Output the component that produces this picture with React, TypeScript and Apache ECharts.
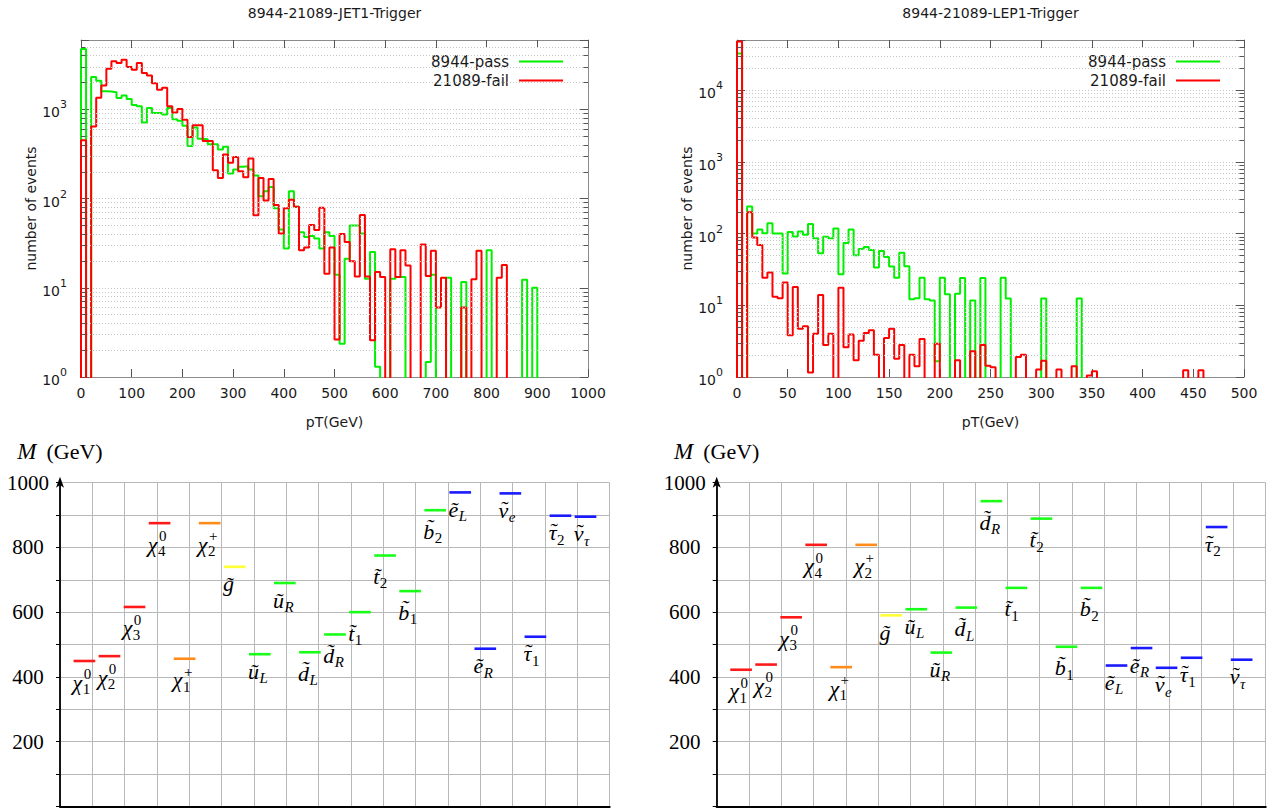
import React, { useEffect, useRef } from 'react';
import * as echarts from 'echarts';

const SANS = 'DejaVu Sans';
const SERIF = 'Liberation Serif';

// ---------------- histogram data ----------------
const jetTitle = '8944-21089-JET1-Trigger';
const lepTitle = '8944-21089-LEP1-Trigger';
const passName = '8944-pass';
const failName = '21089-fail';
const xName = 'pT(GeV)';
const yName = 'number of events';

const jetBinWidth = 10; // GeV
const jetXMax = 1000;
const jetXStep = 100;
const jetYMax = 6000;
const jetPass = [
  4770, 0, 2307, 2100, 1600, 1585, 1560, 1345, 1430, 1310,
  1120, 1082, 713, 1036, 909, 909, 879, 1036, 778, 745,
  654, 389, 626, 470, 462, 406, 406, 356, 382, 191,
  212, 227, 231, 212, 181, 106, 121, 135, 78, 45,
  27.5, 121, 81, 42, 37, 38, 35.7, 27.5, 42, 38,
  14, 2.36, 21.2, 50, 50, 40.7, 12.6, 25.2, 1.3, 0,
  0, 12.6, 13.2, 13.2, 0, 0, 0, 0, 1.47, 14,
  0, 0, 13, 0, 0, 11.6, 0, 0, 0, 0,
  26.4, 0, 0, 0, 0, 0, 0, 12.3, 0, 10,
  0, 0, 0, 0, 0, 0, 0, 0, 0, 0,
];
const jetFail = [
  450, 0, 645, 1350, 1850, 2860, 3460, 3310, 3610, 2990,
  2790, 3320, 2555, 2405, 1970, 1656, 1745, 1082, 926, 1008,
  765, 491, 666, 666, 443, 443, 208, 170, 313, 252,
  292, 203, 173, 282, 65, 170, 95, 166, 85, 40.7,
  78, 97, 81, 26.4, 28.3, 50.6, 44.6, 79, 14.4, 28.3,
  2.64, 40, 32.7, 19.8, 13.4, 65.6, 13.4, 2.58, 15, 13.2,
  0, 27, 13.2, 26.4, 17.8, 0, 0, 30.6, 13.6, 26,
  6.0, 13, 0, 0, 0, 6.0, 0, 12.5, 26, 0,
  0, 0, 13, 18, 0, 0, 0, 0, 0, 0,
  0, 0, 0, 0, 0, 0, 0, 0, 0, 0,
];

const lepBinWidth = 5; // GeV
const lepXMax = 500;
const lepXStep = 50;
const lepYMax = 50000;
const lepPass = [
  32300, 0, 238, 100, 114, 101, 139, 100, 100, 27.7,
  105, 91, 107, 96, 136, 86, 53, 90, 86, 118,
  27, 74, 114, 50, 61, 65, 59, 33.6, 57, 47,
  34.7, 24.3, 54, 35, 12.1, 12.5, 24.3, 12.1, 11.7, 1.66,
  24.3, 14.2, 0, 14.5, 24, 0, 11.7, 0, 24, 0,
  0, 0, 24.3, 12.4, 0, 0, 0, 0, 0, 0,
  12.4, 0, 0, 0, 0, 0, 0, 12.4, 0, 0,
  0, 0, 0, 0, 0, 0, 0, 0, 0, 0,
  0, 0, 0, 0, 0, 0, 0, 0, 0, 0,
  0, 0, 0, 0, 0, 0, 0, 0, 0, 0,
];
const lepFail = [
  47600, 0, 198, 88, 69, 24.3, 28.6, 13.2, 12.5, 20.7,
  3.83, 18, 4.7, 5.1, 1.16, 4.0, 13.9, 2.8, 4.0, 0,
  17.6, 2.6, 3.9, 1.71, 3.2, 4.1, 4.5, 2.05, 0, 3.5,
  4.7, 1.79, 2.8, 0, 2.05, 1.41, 3.4, 0, 0, 2.9,
  0, 0, 0, 1.71, 0, 0, 2.29, 0, 2.8, 1.44,
  1.37, 0, 0, 0, 0, 1.9, 2.05, 0, 0, 1.27,
  1.69, 0, 0, 1.27, 0, 0, 1.41, 0, 0, 1.05,
  1.2, 0, 0, 0, 0, 0, 0, 0, 0, 0,
  0, 0, 0, 0, 0, 0, 0, 0, 1.24, 0,
  0, 1.24, 0, 0, 0, 0, 0, 0, 0, 0,
];

// ---------------- mass spectra ----------------
const particleBase = ['χ', 'χ', 'χ', 'χ', 'χ', 'χ', 'g', 'u', 'u', 'd', 'd', 't', 't', 'b', 'b', 'e', 'e', 'ν', 'τ', 'τ', 'ν'];
const particleSub = ['1', '2', '3', '4', '1', '2', '', 'L', 'R', 'L', 'R', '1', '2', '1', '2', 'L', 'R', 'e', '1', '2', 'τ'];
const particleSup = ['0', '0', '0', '0', '+', '+', '', '', '', '', '', '', '', '', '', '', '', '', '', '', ''];
const particleFamily = ['neutralino', 'neutralino', 'neutralino', 'neutralino', 'chargino', 'chargino', 'gluino',
  'squark', 'squark', 'squark', 'squark', 'squark', 'squark', 'squark', 'squark',
  'slepton', 'slepton', 'slepton', 'slepton', 'slepton', 'slepton'];
const familyColor: Record<string, string> = {
  neutralino: '#ff1a1a', chargino: '#ff8c1a', gluino: '#ffff33', squark: '#1aff1a', slepton: '#1a1aff',
};
const massLeft = [449, 464, 616, 875, 456, 875, 740, 470, 690, 476, 531, 600, 775, 665, 915, 970, 487, 967, 524, 898, 895];
const massRight = [422, 438, 584, 808, 430, 808, 590, 609, 475, 614, 943, 675, 889, 493, 675, 435, 489, 428, 459, 863, 453];
const massYTicks = [200, 400, 600, 800, 1000];

// ---------------- layout ----------------
const FLOOR = 0.1; // empty bins drawn below the log axis floor
const SLOT_START = 0.42;
const SLOT_STEP = 0.775;
const SEG_LEN = 0.67;
const MAIN_SIZE = 22;
const SCRIPT_SIZE = 15;
const CENTRAL = 0.34; // em offset of the central baseline above the alphabetic one

function stepData(values: number[], width: number) {
  const pts: number[][] = [[0, FLOOR]];
  values.forEach((v, i) => pts.push([i * width, v > 0 ? v : FLOOR]));
  pts.push([values.length * width, FLOOR]);
  return pts;
}

function minorValues(max: number) {
  const out: number[] = [];
  for (let d = 1; d < max; d *= 10) {
    for (let m = 2; m <= 9; m++) if (m * d < max) out.push(m * d);
  }
  return out;
}

function logLabel(v: number) {
  const e = Math.log10(v);
  const r = Math.round(e);
  if (Math.abs(e - r) > 1e-6) return '';
  return `{b|10}{e|${r}}`;
}

const logRich = {
  b: { fontFamily: SANS, fontSize: 14, color: '#1a1a1a', padding: [6, 0, 0, 0] },
  e: { fontFamily: SANS, fontSize: 11, color: '#1a1a1a', verticalAlign: 'top' },
};

function histAxes(gridIndex: number, xMax: number, xStep: number, yMax: number) {
  const frame = { show: true, onZero: false, lineStyle: { color: '#8c8c8c', width: 1 } };
  const tick = { show: true, inside: true, length: 8, lineStyle: { color: '#555', width: 1 } };
  const nameStyle = { fontFamily: SANS, fontSize: 14, color: '#1a1a1a' };
  const xBase = { type: 'value', gridIndex, min: 0, max: xMax, interval: xStep, axisLine: frame, axisTick: tick, splitLine: { show: false } };
  const yBase = { type: 'log', gridIndex, min: 1, max: yMax, logBase: 10, axisLine: frame, axisTick: tick };
  return {
    x: [
      { ...xBase, position: 'bottom', axisLabel: { fontFamily: SANS, fontSize: 14, color: '#1a1a1a', margin: 9, formatter: (v: number) => String(v) }, name: xName, nameLocation: 'middle', nameGap: 38, nameTextStyle: nameStyle },
      { ...xBase, position: 'top', axisLabel: { show: false } },
    ],
    y: [
      { ...yBase, position: 'left', axisLabel: { margin: 14, formatter: logLabel, rich: logRich }, splitLine: { show: true, lineStyle: { type: [1, 2], color: '#c4c4c4', width: 1 } }, name: yName, nameLocation: 'middle', nameGap: 41, nameTextStyle: nameStyle },
      { ...yBase, position: 'right', axisLabel: { show: false }, splitLine: { show: false } },
    ],
  };
}

function minorSeries(xIdx: number, yIdx: number, xMax: number, yMax: number) {
  const vals = minorValues(yMax);
  const tl = xMax * 0.009;
  const tickStyle = { type: 'solid', color: '#555', width: 1 };
  return {
    type: 'line', xAxisIndex: xIdx, yAxisIndex: yIdx, data: [], silent: true, z: 1,
    markLine: {
      silent: true, symbol: 'none', animation: false, label: { show: false },
      data: [
        ...vals.map((v) => ({ yAxis: v, lineStyle: { type: [1, 2], color: '#c4c4c4', width: 1 } })),
        ...vals.map((v) => [{ coord: [0, v], lineStyle: tickStyle }, { coord: [tl, v] }]),
        ...vals.map((v) => [{ coord: [xMax - tl, v], lineStyle: tickStyle }, { coord: [xMax, v] }]),
      ],
    },
  };
}

function histSeries(xIdx: number, yIdx: number, pass: number[], fail: number[], width: number) {
  const common = { type: 'line', xAxisIndex: xIdx, yAxisIndex: yIdx, step: 'end', showSymbol: false, symbol: 'none', clip: true, animation: false };
  return [
    { ...common, name: passName, data: stepData(pass, width), z: 3, color: '#00f000', lineStyle: { color: '#00f000', width: 2 } },
    { ...common, name: failName, data: stepData(fail, width), z: 4, color: '#ff0000', lineStyle: { color: '#ff0000', width: 2 } },
  ];
}

function massAxes(gridIndex: number) {
  const grid = { show: true, lineStyle: { color: '#b8b8b8', width: 1 } };
  return {
    x: {
      type: 'value', gridIndex, min: 0, max: 17, interval: 1,
      axisLine: { show: true, onZero: false, lineStyle: { color: '#000', width: 2.2 } },
      axisTick: { show: false }, axisLabel: { show: false }, splitLine: grid,
    },
    y: {
      type: 'value', gridIndex, min: 0, max: 1000, interval: 100,
      axisLine: { show: true, onZero: false, symbol: ['none', 'arrow'], symbolSize: [6, 11], symbolOffset: [0, 6], lineStyle: { color: '#000', width: 1.8 } },
      axisTick: { show: true, inside: false, length: 4, lineStyle: { color: '#000', width: 1 } },
      axisLabel: {
        fontFamily: SERIF, fontSize: 21, color: '#000', align: 'center', margin: 32,
        formatter: (v: number) => (massYTicks.indexOf(v) >= 0 ? String(v) : ''),
      },
      splitLine: grid,
      name: '{a|M}{b|(GeV)}', nameLocation: 'end', nameGap: 20,
      nameTextStyle: {
        rich: {
          a: { fontFamily: SERIF, fontStyle: 'italic', fontSize: 23, color: '#000' },
          b: { fontFamily: SERIF, fontSize: 22, color: '#000', padding: [0, 0, 0, 10] },
        },
      },
    },
  };
}

const TILDE_PRE: Record<string, string> = { u: 'ũ', e: 'ẽ' };
const GREEK_TILDE = 'ντ';
function glyphOf(i: number) {
  const b = particleBase[i];
  if (b === 'χ' || GREEK_TILDE.indexOf(b) >= 0) return b;
  return TILDE_PRE[b] || b + '\u0303';
}

let measureCtx: CanvasRenderingContext2D | null = null;
function textWidth(s: string, font: string) {
  if (!measureCtx) measureCtx = document.createElement('canvas').getContext('2d');
  if (!measureCtx) return s.length * 10;
  measureCtx.font = font;
  return measureCtx.measureText(s).width;
}

function txt(x: number, baseline: number, text: string, size: number, italic: boolean, align = 'left') {
  return {
    type: 'text', x, y: baseline - CENTRAL * size,
    style: { text, fontFamily: SERIF, fontSize: size, fontStyle: italic ? 'italic' : 'normal', fill: '#000', align, verticalAlign: 'middle' },
  };
}

function renderParticle(params: any, api: any) {
  const x0 = api.value(0);
  const mass = api.value(1);
  const idx = api.value(2);
  const p0 = api.coord([x0, mass]);
  const p1 = api.coord([x0 + SEG_LEN, mass]);
  const color = familyColor[particleFamily[idx]];
  const base = particleBase[idx];
  const glyph = glyphOf(idx);
  const sub = particleSub[idx];
  const sup = particleSup[idx];
  const tall = base === 'χ' || 'bdt'.indexOf(base) >= 0;
  const baseline = p0[1] + (tall ? 28.5 : 24.5);
  const start = p0[0] - 1;
  const w = textWidth(base, `italic ${MAIN_SIZE}px "${SERIF}"`);
  const children: any[] = [
    { type: 'line', shape: { x1: p0[0], y1: p0[1], x2: p1[0], y2: p1[1] }, style: { stroke: color, lineWidth: 2.6 } },
    txt(start, baseline, glyph, MAIN_SIZE, true),
  ];
  if (GREEK_TILDE.indexOf(base) >= 0) {
    children.push(txt(start + w / 2 + 1.5, baseline - 2, '˜', MAIN_SIZE, false, 'center'));
  }
  if (sub) children.push(txt(start + w + 0.5, baseline + 4.5, sub, SCRIPT_SIZE, !/\d/.test(sub)));
  if (sup) children.push(txt(start + w + 1.5, baseline - 10.5, sup, SCRIPT_SIZE, false));
  return { type: 'group', children };
}

function massSeries(xIdx: number, yIdx: number, masses: number[]) {
  return {
    type: 'custom', coordinateSystem: 'cartesian2d', xAxisIndex: xIdx, yAxisIndex: yIdx,
    data: masses.map((m, i) => [SLOT_START + SLOT_STEP * i, m, i]),
    encode: { x: 0, y: 1 }, renderItem: renderParticle, silent: true, clip: false, z: 5,
  };
}

export default function App() {
  const ref = useRef<HTMLDivElement>(null);
  useEffect(() => {
    if (!ref.current) return;
    const chart = echarts.init(ref.current, null, { renderer: 'svg' });
    const jet = histAxes(0, jetXMax, jetXStep, jetYMax);
    const lep = histAxes(1, lepXMax, lepXStep, lepYMax);
    const mL = massAxes(2);
    const mR = massAxes(3);
    const legendBase = {
      data: [passName, failName], orient: 'vertical', align: 'right', icon: 'rect',
      itemWidth: 44, itemHeight: 2, itemGap: 4, top: 49, selectedMode: false,
      textStyle: { fontFamily: SANS, fontSize: 15, lineHeight: 15, color: '#1a1a1a', padding: [0, 5, 0, 0] },
    };
    const titleStyle = { fontFamily: SANS, fontSize: 14, fontWeight: 'normal', color: '#1a1a1a' };
    chart.setOption({
      animation: false,
      backgroundColor: '#ffffff',
      textStyle: { fontFamily: SANS },
      title: [
        { text: jetTitle, left: 334.5, top: 6, textAlign: 'center', padding: 0, textStyle: titleStyle },
        { text: lepTitle, left: 990.5, top: 6, textAlign: 'center', padding: 0, textStyle: titleStyle },
      ],
      legend: [
        { ...legendBase, right: 708 },
        { ...legendBase, right: 51 },
      ],
      grid: [
        { left: 81, top: 40, width: 507, height: 337, outerBoundsMode: 'none' },
        { left: 737, top: 40, width: 507, height: 337, outerBoundsMode: 'none' },
        { left: 60, top: 482.7, width: 549.6, height: 323.6, outerBoundsMode: 'none' },
        { left: 716.7, top: 482.7, width: 549, height: 323.6, outerBoundsMode: 'none' },
      ],
      xAxis: [...jet.x, ...lep.x, mL.x, mR.x],
      yAxis: [...jet.y, ...lep.y, mL.y, mR.y],
      series: [
        minorSeries(0, 0, jetXMax, jetYMax),
        ...histSeries(0, 0, jetPass, jetFail, jetBinWidth),
        minorSeries(2, 2, lepXMax, lepYMax),
        ...histSeries(2, 2, lepPass, lepFail, lepBinWidth),
        massSeries(4, 4, massLeft),
        massSeries(5, 5, massRight),
      ],
    });
    return () => chart.dispose();
  }, []);
  return <div ref={ref} style={{ position: 'absolute', left: 0, top: 0, width: '1276px', height: '810px' }} />;
}
